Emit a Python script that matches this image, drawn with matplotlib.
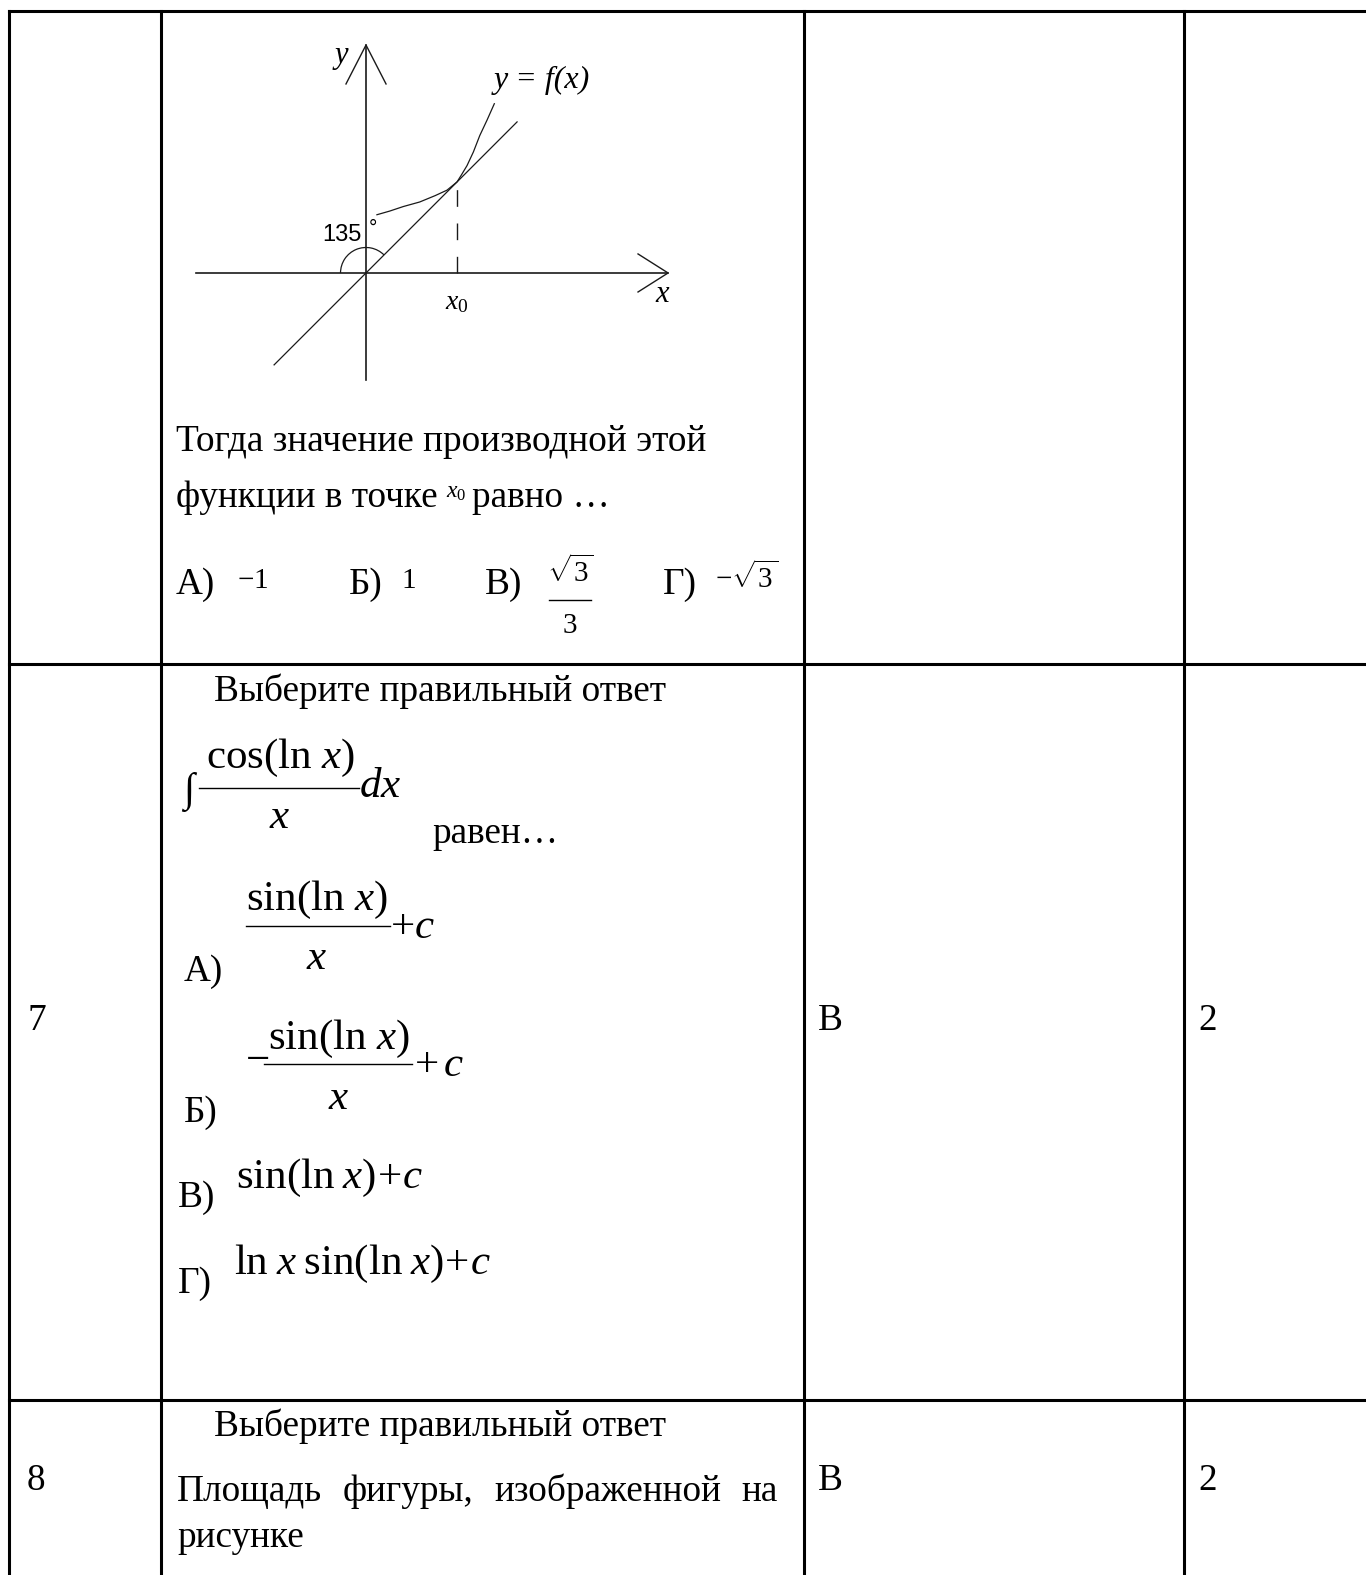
import matplotlib
matplotlib.use('Agg')
import matplotlib.pyplot as plt
from matplotlib.patches import Arc

plt.rcParams['font.family'] = ['Liberation Serif', 'DejaVu Serif']
plt.rcParams['mathtext.fontset'] = 'custom'
plt.rcParams['mathtext.rm'] = 'Liberation Serif'
plt.rcParams['mathtext.it'] = 'Liberation Serif:italic'
plt.rcParams['mathtext.bf'] = 'Liberation Serif:bold'

# ---- data ----
row_numbers = ['7', '8']
right_answers = ['В', 'В']
scores = ['2', '2']

q6_text = ['Тогда значение производной этой', 'функции в точке', 'равно …']
q6_labels = ['А)', 'Б)', 'В)', 'Г)']
q6_values = [r'$-1$', r'$1$', None, r'$-\sqrt{3}$']
q6_frac = (r'$\sqrt{3}$', r'$3$')

q7_title = 'Выберите правильный ответ'
q7_labels = ['А)', 'Б)', 'В)', 'Г)']
q7_num = r'$\mathrm{sin(ln}\ x\mathrm{)}$'
q7_int_num = r'$\mathrm{cos(ln}\ x\mathrm{)}$'
q7_c = r'$\mathrm{+}c$'
q7_v = r'$\mathrm{sin(ln}\;x\mathrm{)}\!+\!c$'
q7_g = r'$\mathrm{ln}\;x\;\mathrm{sin(ln}\;x\mathrm{)}\!+\!c$'

q8_title = 'Выберите правильный ответ'
q8_words = ['Площадь', 'фигуры,', 'изображенной', 'на']
q8_tail = 'рисунке'

# graph: curve y = f(x) and its tangent at x0 (x0 = 1 unit)
x0 = 1.0
curve_u = [0.12, 0.26, 0.41, 0.59, 0.76, 0.89, 1.0, 1.05, 1.11, 1.18, 1.25, 1.33, 1.41]
curve_v = [0.64, 0.68, 0.73, 0.78, 0.85, 0.91, 1.0, 1.08, 1.18, 1.33, 1.51, 1.68, 1.86]
tangent_u = [-1.01, 1.66]
tangent_v = [-1.01, 1.66]
angle_label = '135'

W, H = 1366, 1575
fig = plt.figure(figsize=(W / 100, H / 100), dpi=100)
ax = fig.add_axes([0, 0, 1, 1])
ax.set_xlim(0, W)
ax.set_ylim(H, 0)
ax.axis('off')

# table grid
col_x = [9, 161, 804, 1184]
row_y = [11, 664, 1400]
lw = 2.2
for y in row_y:
    ax.plot([col_x[0], W], [y, y], color='black', lw=lw, solid_capstyle='projecting')
for x in col_x:
    ax.plot([x, x], [row_y[0], H], color='black', lw=lw, solid_capstyle='projecting')

FS = 26.8   # body text
FM = 31     # formulas
FSm = 21    # small formulas in row 6

def txt(x, y, s, size=FS, **kw):
    return ax.text(x, y, s, fontsize=size, va='baseline', ha=kw.pop('ha', 'left'), **kw)

def frac(xc, y_bar, num, den, x1, x2, size, dn, dd):
    ax.plot([x1, x2], [y_bar, y_bar], color='black', lw=1.0)
    txt(xc, y_bar - dn, num, size, ha='center')
    txt(xc, y_bar + dd, den, size, ha='center')

# ---- row 6 (graph + text) ----
gx = fig.add_axes([190 / W, 1 - 395 / H, 510 / W, 365 / H])
gx.set_xlim(-1.934, 3.670)
gx.set_ylim(-1.341, 2.670)
gx.axis('off')
gc = '#1a1a1a'
gx.plot([-1.868, 3.319], [0, 0], color=gc, lw=1.2)
gx.plot([0, 0], [-1.176, 2.505], color=gc, lw=1.2)
gx.plot([-0.22, 0, 0.22], [2.077, 2.505, 2.077], color=gc, lw=1.0)
gx.plot([2.989, 3.319, 2.989], [0.209, 0, -0.209], color=gc, lw=1.0)
gx.plot(tangent_u, tangent_v, color=gc, lw=0.9)
gx.plot(curve_u, curve_v, color=gc, lw=0.9)
gx.plot([x0, x0], [0, 1.0], color=gc, lw=1.0, linestyle=(0, (12, 12)))
gx.add_patch(Arc((0, 0), 0.56, 0.56, theta1=45, theta2=180, color=gc, lw=0.9))
gx.text(-0.27, 2.39, 'y', fontsize=22, style='italic', ha='center', va='center')
gx.text(3.25, -0.24, 'x', fontsize=22, style='italic', ha='center', va='center')
gx.text(x0, -0.33, r'$x_0$', fontsize=20, ha='center', va='center')
gx.text(1.40, 2.12, 'y = f(x)', fontsize=23, style='italic', ha='left', va='center')
gx.text(-0.48, 0.42, angle_label, fontsize=17, family='Liberation Sans', ha='left', va='center')
gx.text(0.075, 0.49, '°', fontsize=15, family='Liberation Sans', ha='center', va='center')

txt(176, 451, q6_text[0])
txt(176, 507, q6_text[1])
txt(446, 498, r'$x_0$', 17)
txt(472, 507, q6_text[2])
opt_x = [176, 349, 485, 663]
val_x = [237, 401, None, 715]
for lab, xl, val, xv in zip(q6_labels, opt_x, q6_values, val_x):
    txt(xl, 594, lab)
    if val is not None:
        txt(xv, 588, val, FSm)
frac(570, 600, q6_frac[0], q6_frac[1], 549, 591, FSm, 18, 33)

# ---- row 7 ----
txt(27, 1030, row_numbers[0])
txt(818, 1030, right_answers[0])
txt(1198, 1030, scores[0])
txt(214, 701, q7_title)
# integral
txt(183, 801, '∫', 29)
frac(280, 788, q7_int_num, r'$x$', 199, 359, FM, 20, 40)
txt(359, 797, r'$dx$', FM)
txt(432, 843, 'равен…')
# A
frac(317, 926, q7_num, r'$x$', 246, 390, FM, 16, 43)
txt(390, 938, q7_c, FM)
txt(184, 981, q7_labels[0])
# Б
txt(245, 1070, r'$-$', FM)
frac(339, 1064, q7_num, r'$x$', 264, 412, FM, 15, 45)
txt(414, 1076, r'$+\,c$', FM)
txt(184, 1122, q7_labels[1])
# В, Г
txt(178, 1207, q7_labels[2])
txt(236, 1188, q7_v, FM)
txt(178, 1293, q7_labels[3])
txt(234, 1274, q7_g, FM)

# ---- row 8 ----
txt(27, 1490, row_numbers[1])
txt(818, 1490, right_answers[1])
txt(1198, 1490, scores[1])
txt(214, 1436, q8_title)
# justified line: spread the words between the two margins
words = [txt(0, 1501, w) for w in q8_words]
rend = fig.canvas.get_renderer()
widths = [t.get_window_extent(rend).width for t in words]
left, right = 177, 778
gap = (right - left - sum(widths)) / (len(words) - 1)
xw = left
for t, wd in zip(words, widths):
    t.set_x(xw)
    xw += wd + gap
txt(177, 1547, q8_tail)

fig.savefig('out.png', dpi=100)
